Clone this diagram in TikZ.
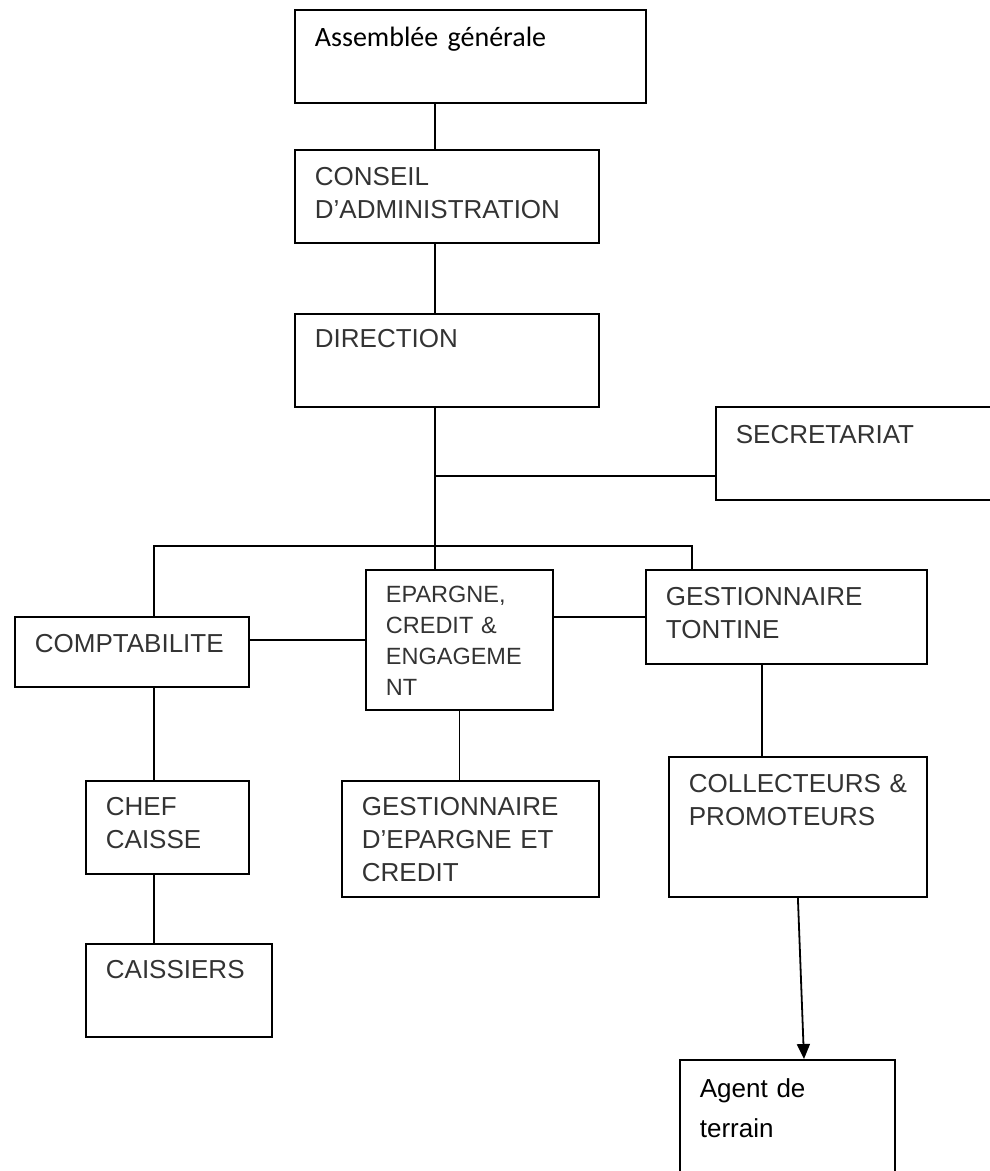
\documentclass[tikz,border=0pt]{standalone}
\usepackage{fontspec}
\setmainfont{Liberation Sans}
\newfontfamily\calibfont{Carlito}
\usetikzlibrary{arrows.meta}
\definecolor{txtgray}{HTML}{333333}
\uchyph=0

\begin{document}
\begin{tikzpicture}[x=1pt, y=-1pt, line width=1.8pt,
    box/.style n args={3}{draw, anchor=north west, inner xsep=20pt, inner ysep=0pt,
      align=left, text width=#1, text height=#2, text depth=#3,
      text=txtgray, font=\fontsize{26}{32.7}\selectfont},
    small/.style={font=\fontsize{23.5}{31}\selectfont}]
  \useasboundingbox (0,0) rectangle (990,1171);
  % Boxes:
  \node[box={311pt}{37pt}{56pt}, text=black, font=\calibfont\fontsize{28}{34}\selectfont] (ag) at (294,9) {Assembl\'ee g\'en\'erale};
  \node[box={264pt}{36pt}{57pt}] (cons) at (294,149) {CONSEIL\\D'ADMINISTRATION};
  \node[box={264pt}{34pt}{59pt}] (dir) at (294,313) {DIRECTION};
  \node[box={250pt}{37pt}{56pt}] (sec) at (715,406) {SECRETARIAT};
  \node[box={194pt}{36pt}{34pt}] (comp) at (14,616) {COMPTABILITE};
  \node[box={147pt}{33pt}{107pt}, small] (ep) at (365,569) {EPARGNE,\\CREDIT~\&\\ENGAGEME\\NT};
  \node[box={241pt}{36pt}{58pt}] (gt) at (645,569) {GESTIONNAIRE\\TONTINE};
  \node[box={123pt}{35pt}{58pt}] (chef) at (85,780) {CHEF\\CAISSE};
  \node[box={217pt}{35pt}{81pt}] (gde) at (341,780) {GESTIONNAIRE\\D'EPARGNE ET\\CREDIT};
  \node[box={146pt}{35pt}{58pt}] (cais) at (85,943) {CAISSIERS};
  \node[box={218pt}{36pt}{104pt}] (coll) at (668,756) {COLLECTEURS~\&\\PROMOTEURS};
  \node[box={175pt}{38pt}{102pt}, text=black, font=\fontsize{26}{40}\selectfont] (agent) at (679,1059) {Agent de\\terrain};
  % Wires:
  \coordinate (trunk) at (435,0);
  \coordinate (lx) at (154,0);
  \coordinate (rx) at (692,0);
  \coordinate (mx) at (762,0);
  \coordinate (jsec) at (435,476);
  \coordinate (jbr) at (435,546);
  \draw (ag.south -| trunk) -- (cons.north -| trunk);
  \draw (cons.south -| trunk) -- (dir.north -| trunk);
  \draw (dir.south -| trunk) -- (ep.north -| trunk);
  \draw (jsec) -- (jsec -| sec.west);
  \draw (lx |- comp.north) |- (jbr) -| (rx |- gt.north);
  \draw (ep.west) -- (ep.west -| comp.east);
  \draw (gt.west) -- (gt.west -| ep.east);
  \draw (ep.south) -- (ep.south |- gde.north);
  \draw (lx |- comp.south) -- (lx |- chef.north);
  \draw (lx |- chef.south) -- (lx |- cais.north);
  \draw (mx |- gt.south) -- (mx |- coll.north);
  \draw[-{Triangle[length=15pt,width=13pt]}] (coll.south) -- ([xshift=125pt]agent.north west);
\end{tikzpicture}
\end{document}
